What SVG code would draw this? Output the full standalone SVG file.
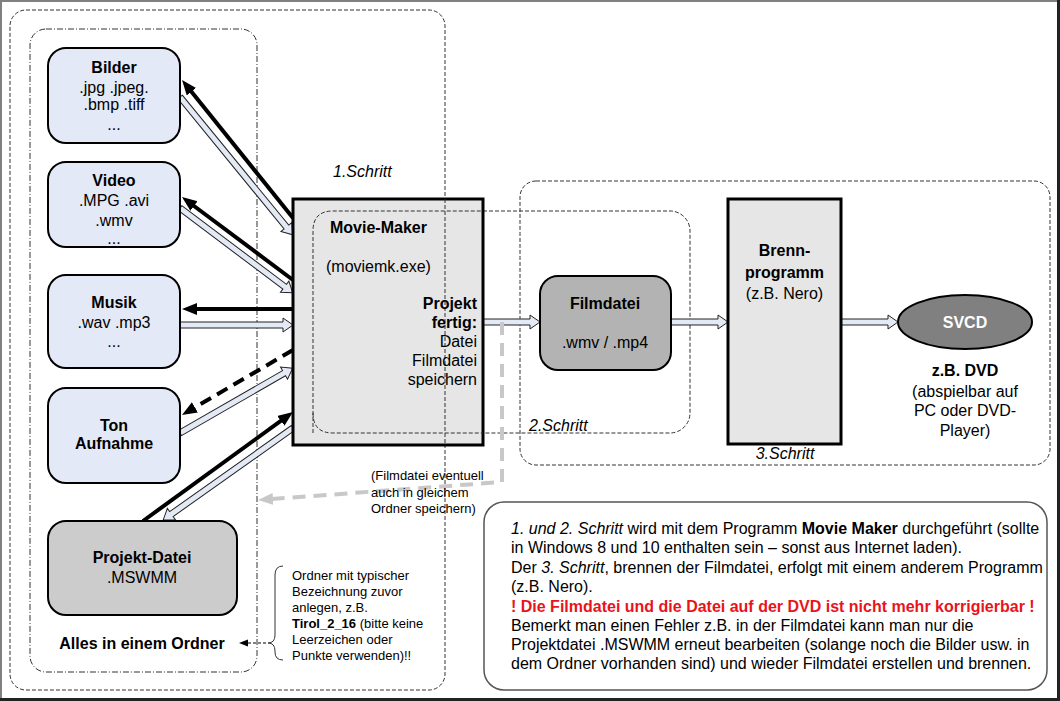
<svg xmlns="http://www.w3.org/2000/svg" width="1060" height="701" viewBox="0 0 1060 701">
<defs>
<style>
text{font-family:"Liberation Sans",Arial,sans-serif;fill:#000}
.n{font-size:16px}
.b{font-weight:bold}
.i{font-style:italic}
.s{font-size:13px}
.c{text-anchor:middle}
.r{text-anchor:end}
.node{fill:#e3e9f6;stroke:#000;stroke-width:2}
.grp{fill:none;stroke:#333;stroke-width:1;stroke-dasharray:4,2}
.dd{fill:none;stroke:#333;stroke-width:1;stroke-dasharray:6,2,1,2}
.blk{fill:none;stroke:#000;stroke-width:4}
.hol{fill:#e3eaf6;stroke:#222;stroke-width:1}
</style>
<marker id="ah" markerUnits="userSpaceOnUse" markerWidth="16" markerHeight="13" refX="5" refY="6" orient="auto"><path d="M0,0 L15,6 L0,12 z" fill="#000"/></marker>
<marker id="ag" markerUnits="userSpaceOnUse" markerWidth="16" markerHeight="13" refX="5" refY="6" orient="auto"><path d="M0,0 L15,6 L0,12 z" fill="#c8c8c8"/></marker>
<marker id="as" markerUnits="userSpaceOnUse" markerWidth="10" markerHeight="8" refX="2" refY="3.5" orient="auto"><path d="M0,0 L9,3.5 L0,7 z" fill="#000"/></marker>
</defs>
<rect x="0" y="0" width="1060" height="701" fill="#fff"/>
<rect x="1" y="1" width="1057" height="698" fill="none" stroke="#808080" stroke-width="2"/>
<line x1="1058.5" y1="0" x2="1058.5" y2="701" stroke="#222" stroke-width="3"/>
<line x1="0" y1="699.5" x2="1060" y2="699.5" stroke="#222" stroke-width="3"/>

<g id="groups">
<rect x="10" y="10" width="435" height="680" rx="16" class="grp"/>
<rect x="30" y="29" width="227" height="643" rx="16" class="dd"/>
<rect x="313" y="211" width="377" height="222" rx="20" class="grp"/>
<rect x="520" y="181" width="530" height="284" rx="16" class="grp"/>
<text x="333" y="177" class="n i">1.Schritt</text>
<text x="529" y="431" class="n i">2.Schritt</text>
<text x="785" y="459" class="n i c">3.Schritt</text>
</g>

<g id="connectors">
<line x1="293" y1="218" x2="188.3" y2="87.8" class="blk" marker-end="url(#ah)"/>
<line x1="293" y1="280" x2="190" y2="203" class="blk" marker-end="url(#ah)"/>
<line x1="293" y1="309" x2="192" y2="309" class="blk" marker-end="url(#ah)"/>
<line x1="293" y1="350" x2="190.6" y2="409.9" class="blk" stroke-dasharray="12,7" marker-end="url(#ah)"/>
<line x1="143" y1="521" x2="284.9" y2="417.9" class="blk" marker-end="url(#ah)"/>
<polygon class="hol" transform="translate(180,97) rotate(50.7)" points="0,-3 168,-3 168,-7 178,0 168,7 168,3 0,3"/>
<polygon class="hol" transform="translate(180,208) rotate(36.96)" points="0,-3 131,-3 131,-7 141,0 131,7 131,3 0,3"/>
<polygon class="hol" transform="translate(180,325)" points="0,-3 103,-3 103,-7 113,0 103,7 103,3 0,3"/>
<polygon class="hol" transform="translate(180,433) rotate(-29.9)" points="0,-3 120,-3 120,-7 130,0 120,7 120,3 0,3"/>
<polygon class="hol" transform="translate(293,428) rotate(144.7)" points="0,-3 149,-3 149,-7 159,0 149,7 149,3 0,3"/>
<polygon class="hol" transform="translate(483,322)" points="0,-3 47,-3 47,-7 57,0 47,7 47,3 0,3"/>
<polygon class="hol" transform="translate(671,322)" points="0,-3 47,-3 47,-7 57,0 47,7 47,3 0,3"/>
<polygon class="hol" transform="translate(841,322)" points="0,-3 47,-3 47,-7 57,0 47,7 47,3 0,3"/>
<polyline points="502,322 502,482 268,499.3" fill="none" stroke="#c8c8c8" stroke-width="4" stroke-dasharray="13,8" marker-end="url(#ag)"/>
<line x1="266" y1="643" x2="246" y2="643" stroke="#000" stroke-width="1" stroke-dasharray="3,2" marker-end="url(#as)"/>
</g>

<g id="bilder">
<rect x="48" y="48" width="132" height="95" rx="18" class="node"/>
<text x="114" y="73" class="n b c">Bilder</text>
<text x="114" y="93" class="n c">.jpg .jpeg.</text>
<text x="114" y="110" class="n c">.bmp .tiff</text>
<text x="114" y="130" class="n c">...</text>
</g>
<g id="video">
<rect x="48" y="162" width="132" height="85" rx="18" class="node"/>
<text x="114" y="186" class="n b c">Video</text>
<text x="114" y="206" class="n c">.MPG .avi</text>
<text x="114" y="226" class="n c">.wmv</text>
<text x="114" y="244" class="n c">...</text>
</g>
<g id="musik">
<rect x="48" y="275" width="132" height="93" rx="18" class="node"/>
<text x="114" y="308" class="n b c">Musik</text>
<text x="114" y="328" class="n c">.wav .mp3</text>
<text x="114" y="347" class="n c">...</text>
</g>
<g id="ton">
<rect x="48" y="388" width="132" height="95" rx="18" class="node"/>
<text x="114" y="431" class="n b c">Ton</text>
<text x="114" y="449" class="n b c">Aufnahme</text>
</g>
<g id="projekt">
<rect x="48" y="521" width="189" height="94" rx="18" fill="#cccccc" stroke="#000" stroke-width="2"/>
<text x="142" y="563" class="n b c">Projekt-Datei</text>
<text x="142" y="583" class="n c">.MSWMM</text>
</g>
<g id="ordner">
<text x="142" y="649" class="n b c">Alles in einem Ordner</text>
<path d="M283,566 Q275,566 275,575 L275,635 Q275,643 268,643 Q275,643 275,651 L275,652 Q275,660 283,660" fill="none" stroke="#333" stroke-width="1"/>
<text class="s" x="292" y="580">Ordner mit typischer</text>
<text class="s" x="292" y="596">Bezeichnung zuvor</text>
<text class="s" x="292" y="612">anlegen, z.B.</text>
<text class="s" x="292" y="628"><tspan class="b">Tirol_2_16</tspan> (bitte keine</text>
<text class="s" x="292" y="644">Leerzeichen oder</text>
<text class="s" x="292" y="660">Punkte verwenden)!!</text>
</g>
<g id="moviemaker">
<rect x="293" y="199" width="190" height="246" fill="#e6e6e6" stroke="#000" stroke-width="3"/>
<path d="M313,433 L313,231 Q313,211 333,211 L483,211" fill="none" stroke="#333" stroke-width="1" stroke-dasharray="4,2"/>
<path d="M313,413 Q313,433 333,433 L483,433" fill="none" stroke="#333" stroke-width="1" stroke-dasharray="4,2"/>
<line x1="445" y1="199" x2="445" y2="445" stroke="#333" stroke-width="1" stroke-dasharray="4,2"/>
<text x="330" y="233" class="n b">Movie-Maker</text>
<text x="326" y="272" class="n">(moviemk.exe)</text>
<text x="477" y="309" class="n b r">Projekt</text>
<text x="477" y="328" class="n b r">fertig:</text>
<text x="477" y="347" class="n r">Datei</text>
<text x="477" y="366" class="n r">Filmdatei</text>
<text x="477" y="385" class="n r">speichern</text>
</g>
<g id="filmhinweis">
<text class="s" x="371" y="480">(Filmdatei eventuell</text>
<text class="s" x="371" y="497">auch in gleichem</text>
<text class="s" x="371" y="513">Ordner speichern)</text>
</g>
<g id="filmdatei">
<rect x="540" y="276" width="131" height="94" rx="18" fill="#b3b3b3" stroke="#000" stroke-width="2"/>
<text x="605" y="309" class="n b c">Filmdatei</text>
<text x="605" y="348" class="n c">.wmv / .mp4</text>
</g>
<g id="brenn">
<rect x="728" y="199" width="113" height="245" fill="#e6e6e6" stroke="#000" stroke-width="3"/>
<text x="784.5" y="256" class="n b c">Brenn-</text>
<text x="784.5" y="278" class="n b c">programm</text>
<text x="784.5" y="299" class="n c">(z.B. Nero)</text>
</g>
<g id="svcd">
<ellipse cx="965" cy="322" rx="67" ry="27" fill="#808080" stroke="#000" stroke-width="2"/>
<text x="965" y="328" class="n b c" style="fill:#fff">SVCD</text>
<text x="965" y="376" class="n b c">z.B. DVD</text>
<text x="965" y="397" class="n c">(abspielbar auf</text>
<text x="965" y="416" class="n c">PC oder DVD-</text>
<text x="965" y="436" class="n c">Player)</text>
</g>
<g id="info">
<rect x="484" y="502" width="563" height="188" rx="20" fill="#fff" stroke="#555" stroke-width="1.5"/>
<text class="n" x="511" y="534"><tspan class="i">1. und 2. Schritt</tspan> wird mit dem Programm <tspan class="b">Movie Maker</tspan> durchgeführt (sollte</text>
<text class="n" x="511" y="553">in Windows 8 und 10 enthalten sein – sonst aus Internet laden).</text>
<text class="n" x="511" y="573">Der <tspan class="i">3. Schritt</tspan>, brennen der Filmdatei, erfolgt mit einem anderem Programm</text>
<text class="n" x="511" y="592">(z.B. Nero).</text>
<text class="n b" x="511" y="612" style="fill:#e8141c">! Die Filmdatei und die Datei auf der DVD ist nicht mehr korrigierbar !</text>
<text class="n" x="511" y="631">Bemerkt man einen Fehler z.B. in der Filmdatei kann man nur die</text>
<text class="n" x="511" y="650">Projektdatei .MSWMM erneut bearbeiten (solange noch die Bilder usw. in</text>
<text class="n" x="511" y="669">dem Ordner vorhanden sind) und wieder Filmdatei erstellen und brennen.</text>
</g>
</svg>
